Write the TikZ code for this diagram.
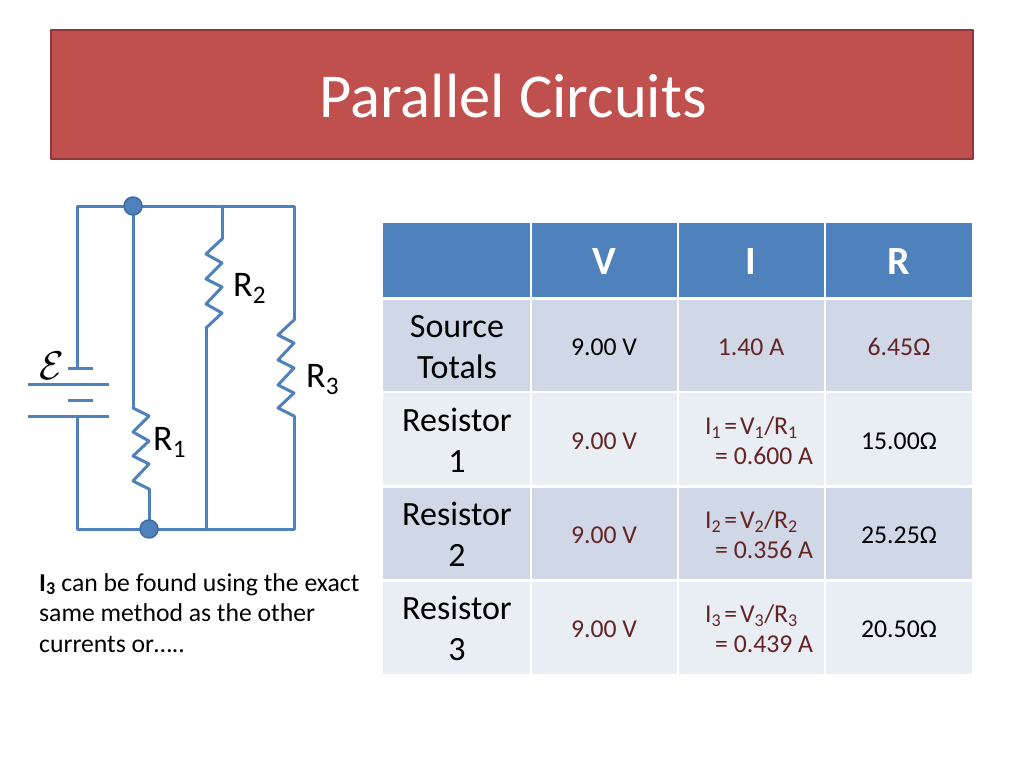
\documentclass[tikz,border=0pt]{standalone}
\usepackage{fontspec}
\setmainfont{Carlito}
\definecolor{wireblue}{HTML}{4F81BD}
\definecolor{dotedge}{HTML}{3F6CA3}
\definecolor{titlered}{HTML}{C0504D}
\definecolor{titleedge}{HTML}{8C3836}
\definecolor{rowdark}{HTML}{D0D8E8}
\definecolor{rowlight}{HTML}{E9EDF4}
\definecolor{darkred}{HTML}{632423}
\tikzset{
	wire/.style={draw=wireblue,line width=3pt},
	joint/.style={circle,fill=wireblue,draw=dotedge,line width=1.5pt,inner sep=0pt,minimum size=18pt},
	reslabel/.style={font=\fontsize{36}{36}\selectfont,anchor=base west,inner sep=0pt},
	cellhead/.style={font=\fontsize{40}{40}\selectfont\bfseries,text=white},
	rowhead/.style={font=\fontsize{34}{41}\selectfont,align=center},
	cell/.style={font=\fontsize{25.7}{30}\selectfont},
	redcell/.style={cell,text=darkred},
	eqcell/.style={redcell,align=left,anchor=west,inner sep=0pt},
}
\begin{document}
\begin{tikzpicture}[x=1pt,y=-1pt,line join=round,line cap=round]
	\useasboundingbox (0,0) rectangle (1024,768);
	% title
	\fill[titlered,draw=titleedge,line width=2.5pt] (51,30) rectangle (973,159);
	\node[text=white,font=\fontsize{62.5}{62.5}\selectfont] (title) at (513,96) {Parallel Circuits};
	% circuit corners
	\coordinate (tl) at (77,206);
	\coordinate (tr) at (294,206);
	\coordinate (bl) at (77,529);
	\coordinate (br) at (294,529);
	\coordinate (bat1) at (77,368);
	\coordinate (bat4) at (77,416);
	\coordinate (a1) at (68,368);
	\coordinate (b1) at (93,368);
	\coordinate (a2) at (28,384);
	\coordinate (b2) at (109,384);
	\coordinate (a3) at (68,400);
	\coordinate (b3) at (93,400);
	\coordinate (a4) at (28,416);
	\coordinate (b4) at (109,416);
	\coordinate (r1wire) at (133,206);
	\coordinate (r1top) at (133,408);
	\coordinate (r1bot) at (149,489);
	\coordinate (r1foot) at (149,529);
	\coordinate (r2wire) at (222,206);
	\coordinate (r2top) at (222,239);
	\coordinate (r2bot) at (206,328);
	\coordinate (r2foot) at (206,529);
	\coordinate (r3top) at (294,320);
	\coordinate (r3bot) at (294,416);
	% wires
	\draw[wire] (bat1) -- (tl) -- (tr) -- (r3top);
	\draw[wire] (r3top) -- ++(-16,15) -- ++(16,8) -- ++(-16,17) -- ++(16,8) -- ++(-16,17) -- ++(16,8) -- ++(-16,15) -- (r3bot);
	\draw[wire] (r3bot) -- (br) -- (bl) -- (bat4);
	\draw[wire] (r2wire) -- (r2top);
	\draw[wire] (r2top) -- ++(-16,15) -- ++(16,9) -- ++(-16,16) -- ++(16,8) -- ++(-16,17) -- ++(16,9) -- (r2bot);
	\draw[wire] (r2bot) -- (r2foot);
	\draw[wire] (r1wire) -- (r1top);
	\draw[wire] (r1top) -- ++(16,8) -- ++(-16,16) -- ++(16,9) -- ++(-16,15) -- ++(16,8) -- ++(-16,17) -- (r1bot);
	\draw[wire] (r1bot) -- (r1foot);
	\node[joint] (dottop) at (r1wire) {};
	\node[joint] (dotbot) at (r1foot) {};
	% battery
	\draw[wire,line cap=butt] (a1) -- (b1);
	\draw[wire,line cap=butt] (a2) -- (b2);
	\draw[wire,line cap=butt] (a3) -- (b3);
	\draw[wire,line cap=butt] (a4) -- (b4);
	\node[scale=4,inner sep=0pt] (emf) at (52,366) {$\mathcal{E}$};
	\node[reslabel] (labr1) at (153,450) {R\textsubscript{1}};
	\node[reslabel] (labr2) at (233,296) {R\textsubscript{2}};
	\node[reslabel] (labr3) at (306,387) {R\textsubscript{3}};
	% note
	\node[anchor=north west,inner sep=0pt,align=left,font=\fontsize{25.7}{30.5}\selectfont] (note) at (39,573)
		{\textbf{I\textsubscript{3}} can be found using the exact\\same method as the other\\currents or\dots..};
	% table cells
	\foreach \xa/\xb/\col in {383/530/0,532/677/1,679/824/2,826/972/3}{
		\fill[wireblue] (\xa,223) rectangle (\xb,297);
		\fill[rowdark] (\xa,300) rectangle (\xb,391);
		\fill[rowlight] (\xa,393) rectangle (\xb,485);
		\fill[rowdark] (\xa,488) rectangle (\xb,579);
		\fill[rowlight] (\xa,582) rectangle (\xb,674);
	}
	% header
	\node[cellhead] (hv) at (604,262) {V};
	\node[cellhead] (hi) at (751,262) {I};
	\node[cellhead] (hr) at (899,262) {R};
	% row heads
	\node[rowhead] (source) at (457,347) {Source\\Totals};
	\node[rowhead] (res1) at (457,440) {Resistor\\1};
	\node[rowhead] (res2) at (457,534) {Resistor\\2};
	\node[rowhead] (res3) at (457,628) {Resistor\\3};
	% values
	\node[cell] (v0) at (604,347) {9.00 V};
	\node[redcell] (i0) at (751,347) {1.40 A};
	\node[redcell] (r0) at (899,347) {6.45Ω};
	\foreach \n/\yy/\cur/\rval in {1/441/0.600/15.00,2/535/0.356/25.25,3/629/0.439/20.50}{
		\node[redcell] (v\n) at (604,\yy) {9.00 V};
		\node[eqcell] (i\n) at (705,\yy)
			{I\textsubscript{\n}\hspace{3pt}=\hspace{3pt}V\textsubscript{\n}/R\textsubscript{\n}\\\hspace*{10pt}= \cur{} A};
		\node[cell] (r\n) at (899,\yy) {\rval Ω};
	}
\end{tikzpicture}
\end{document}
